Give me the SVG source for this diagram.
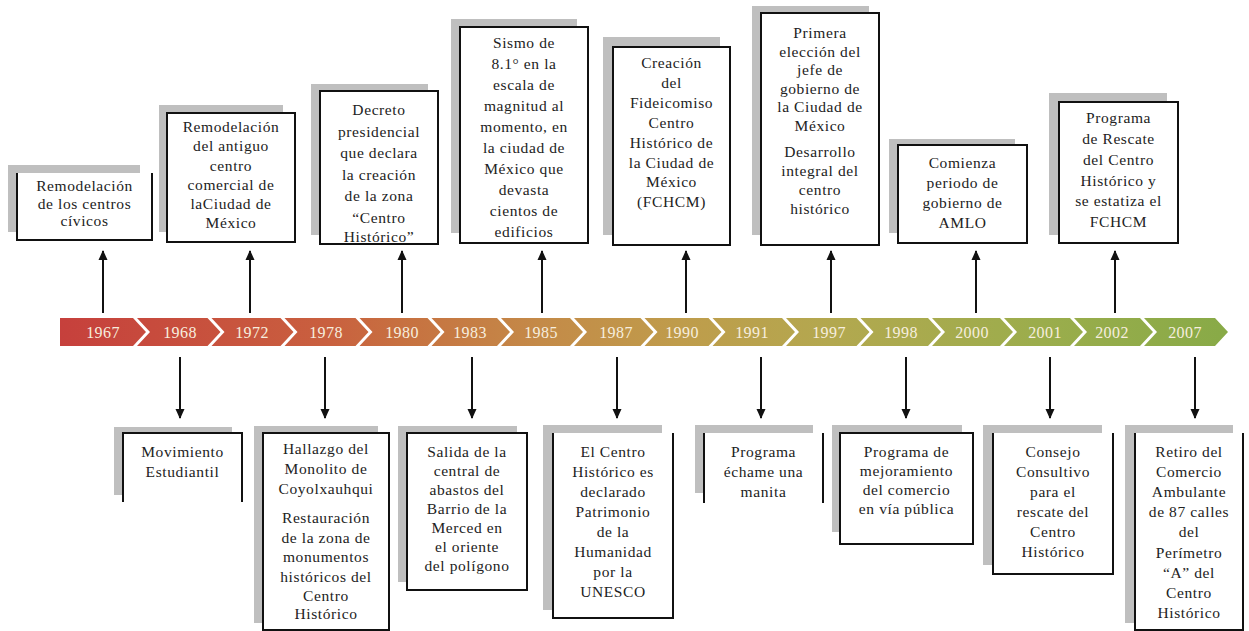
<svg xmlns="http://www.w3.org/2000/svg" width="1249" height="631" viewBox="0 0 1249 631">
<style>
.sh{fill:#bfbfbf}
.bx{fill:#fff;stroke:#111;stroke-width:2}
.wf{fill:#fff}
.bd{fill:none;stroke:#111;stroke-width:2}
.t{font-family:"Liberation Serif","Times New Roman",serif;font-size:15.5px;letter-spacing:0.6px;fill:#222;text-anchor:middle}
.yr{font-family:"Liberation Serif","Times New Roman",serif;font-size:16px;letter-spacing:0.4px;fill:#f7eedf;text-anchor:middle}
.seg{fill:url(#barGrad)}
.ar{stroke:#111;stroke-width:2;fill:none;marker-end:url(#ah)}
</style>
<defs>
<linearGradient id="barGrad" gradientUnits="userSpaceOnUse" x1="60" y1="0" x2="1228" y2="0">
<stop offset="0" stop-color="#c6403c"/>
<stop offset="0.23" stop-color="#c9603f"/>
<stop offset="0.29" stop-color="#c77040"/>
<stop offset="0.41" stop-color="#c48a48"/>
<stop offset="0.53" stop-color="#bf9c4b"/>
<stop offset="0.66" stop-color="#b3a84f"/>
<stop offset="0.84" stop-color="#9bad4c"/>
<stop offset="1" stop-color="#88aa47"/>
</linearGradient>
<marker id="ah" markerUnits="userSpaceOnUse" markerWidth="10" markerHeight="10" refX="9" refY="5" orient="auto">
<path d="M0,0.5 L10,5 L0,9.5 z" fill="#111"/>
</marker>
</defs>
<rect width="1249" height="631" fill="#fff"/>

<g id="timeline">
<polygon class="seg" points="60,318 133,318 146,332 133,346 60,346"/>
<polygon class="seg" points="137,318 207.5,318 220.5,332 207.5,346 137,346 150,332"/>
<polygon class="seg" points="211.5,318 280.5,318 293.5,332 280.5,346 211.5,346 224.5,332"/>
<polygon class="seg" points="284.5,318 355.5,318 368.5,332 355.5,346 284.5,346 297.5,332"/>
<polygon class="seg" points="359.5,318 427.5,318 440.5,332 427.5,346 359.5,346 372.5,332"/>
<polygon class="seg" points="431.5,318 497,318 510,332 497,346 431.5,346 444.5,332"/>
<polygon class="seg" points="501,318 570,318 583,332 570,346 501,346 514,332"/>
<polygon class="seg" points="574,318 640.5,318 653.5,332 640.5,346 574,346 587,332"/>
<polygon class="seg" points="644.5,318 708.5,318 721.5,332 708.5,346 644.5,346 657.5,332"/>
<polygon class="seg" points="712.5,318 782,318 795,332 782,346 712.5,346 725.5,332"/>
<polygon class="seg" points="786,318 856.5,318 869.5,332 856.5,346 786,346 799,332"/>
<polygon class="seg" points="860.5,318 928,318 941,332 928,346 860.5,346 873.5,332"/>
<polygon class="seg" points="932,318 1000,318 1013,332 1000,346 932,346 945,332"/>
<polygon class="seg" points="1004,318 1070,318 1083,332 1070,346 1004,346 1017,332"/>
<polygon class="seg" points="1074,318 1140,318 1153,332 1140,346 1074,346 1087,332"/>
<polygon class="seg" points="1144,318 1215,318 1228,332 1215,346 1144,346 1157,332"/>
<text class="yr" x="103" y="337.5">1967</text>
<text class="yr" x="180" y="337.5">1968</text>
<text class="yr" x="252" y="337.5">1972</text>
<text class="yr" x="326" y="337.5">1978</text>
<text class="yr" x="402" y="337.5">1980</text>
<text class="yr" x="470" y="337.5">1983</text>
<text class="yr" x="541" y="337.5">1985</text>
<text class="yr" x="616" y="337.5">1987</text>
<text class="yr" x="682" y="337.5">1990</text>
<text class="yr" x="752" y="337.5">1991</text>
<text class="yr" x="829" y="337.5">1997</text>
<text class="yr" x="901" y="337.5">1998</text>
<text class="yr" x="972" y="337.5">2000</text>
<text class="yr" x="1045" y="337.5">2001</text>
<text class="yr" x="1112" y="337.5">2002</text>
<text class="yr" x="1185" y="337.5">2007</text>
</g>

<g id="connectors">
<line class="ar" x1="103" y1="313" x2="103" y2="251"/>
<line class="ar" x1="250" y1="313" x2="250" y2="251"/>
<line class="ar" x1="402" y1="313" x2="402" y2="251"/>
<line class="ar" x1="542" y1="313" x2="542" y2="251"/>
<line class="ar" x1="686" y1="313" x2="686" y2="251"/>
<line class="ar" x1="831" y1="313" x2="831" y2="251"/>
<line class="ar" x1="976" y1="313" x2="976" y2="251"/>
<line class="ar" x1="1115" y1="313" x2="1115" y2="251"/>
<line class="ar" x1="180" y1="357" x2="180" y2="418"/>
<line class="ar" x1="325" y1="357" x2="325" y2="418"/>
<line class="ar" x1="472" y1="357" x2="472" y2="418"/>
<line class="ar" x1="617" y1="357" x2="617" y2="418"/>
<line class="ar" x1="761" y1="357" x2="761" y2="418"/>
<line class="ar" x1="906" y1="357" x2="906" y2="418"/>
<line class="ar" x1="1050" y1="357" x2="1050" y2="418"/>
<line class="ar" x1="1195" y1="357" x2="1195" y2="418"/>
</g>

<g id="n1967">
<rect class="sh" x="8" y="165" width="132" height="67"/>
<rect class="wf" x="17" y="173" width="135" height="67"/>
<path class="bd" d="M17,173 V240 H152 V173"/>
<text class="t"><tspan x="84.5" y="191">Remodelación</tspan><tspan x="84.5" y="209">de los centros</tspan><tspan x="84.5" y="226">cívicos</tspan></text>
</g>

<g id="n1972">
<rect class="sh" x="159" y="105" width="124" height="127"/>
<rect class="bx" x="167" y="113" width="128" height="129"/>
<text class="t"><tspan x="231" y="132">Remodelación</tspan><tspan x="231" y="151">del antiguo</tspan><tspan x="231" y="171">centro</tspan><tspan x="231" y="190">comercial de</tspan><tspan x="231" y="209">laCiudad de</tspan><tspan x="231" y="228">México</tspan></text>
</g>

<g id="n1980">
<rect class="sh" x="311" y="84" width="117" height="151"/>
<rect class="bx" x="320" y="91" width="118" height="153"/>
<text class="t"><tspan x="379" y="115">Decreto</tspan><tspan x="379" y="136.5">presidencial</tspan><tspan x="379" y="158">que declara</tspan><tspan x="379" y="179.5">la creación</tspan><tspan x="379" y="201">de la zona</tspan><tspan x="379" y="222.5">“Centro</tspan><tspan x="379" y="244" dy="-2">Histórico”</tspan></text>
</g>

<g id="n1985">
<rect class="sh" x="451" y="19" width="126" height="214"/>
<rect class="bx" x="460" y="27" width="128" height="216"/>
<text class="t"><tspan x="524" y="48">Sismo de</tspan><tspan x="524" y="69">8.1° en la</tspan><tspan x="524" y="90">escala de</tspan><tspan x="524" y="111">magnitud al</tspan><tspan x="524" y="132">momento, en</tspan><tspan x="524" y="153">la ciudad de</tspan><tspan x="524" y="174">México que</tspan><tspan x="524" y="195">devasta</tspan><tspan x="524" y="216">cientos de</tspan><tspan x="524" y="237">edificios</tspan></text>
</g>

<g id="n1990">
<rect class="sh" x="603" y="37" width="117" height="198"/>
<rect class="bx" x="613" y="47" width="117" height="198"/>
<text class="t"><tspan x="671.5" y="68">Creación</tspan><tspan x="671.5" y="88">del</tspan><tspan x="671.5" y="108">Fideicomiso</tspan><tspan x="671.5" y="127.5">Centro</tspan><tspan x="671.5" y="147.5">Histórico de</tspan><tspan x="671.5" y="167.5">la Ciudad de</tspan><tspan x="671.5" y="187">México</tspan><tspan x="671.5" y="207">(FCHCM)</tspan></text>
</g>

<g id="n1997">
<rect class="sh" x="752" y="6" width="117" height="229"/>
<rect class="bx" x="761" y="13" width="118" height="232"/>
<text class="t"><tspan x="820" y="38">Primera</tspan><tspan x="820" y="56.5">elección del</tspan><tspan x="820" y="75">jefe de</tspan><tspan x="820" y="93.5">gobierno de</tspan><tspan x="820" y="112">la Ciudad de</tspan><tspan x="820" y="130.5">México</tspan><tspan x="820" y="157">Desarrollo</tspan><tspan x="820" y="176">integral del</tspan><tspan x="820" y="195">centro</tspan><tspan x="820" y="214">histórico</tspan></text>
</g>

<g id="n2000">
<rect class="sh" x="889" y="139" width="126" height="94"/>
<rect class="bx" x="898" y="145" width="129" height="98"/>
<text class="t"><tspan x="962.5" y="168">Comienza</tspan><tspan x="962.5" y="188">periodo de</tspan><tspan x="962.5" y="208">gobierno de</tspan><tspan x="962.5" y="228">AMLO</tspan></text>
</g>

<g id="n2002">
<rect class="sh" x="1049" y="93" width="118" height="142"/>
<rect class="bx" x="1059" y="102" width="119" height="141"/>
<text class="t"><tspan x="1118.5" y="123">Programa</tspan><tspan x="1118.5" y="144">de Rescate</tspan><tspan x="1118.5" y="164.5">del Centro</tspan><tspan x="1118.5" y="185.5">Histórico y</tspan><tspan x="1118.5" y="206">se estatiza el</tspan><tspan x="1118.5" y="227">FCHCM</tspan></text>
</g>

<g id="n1968">
<rect class="sh" x="114" y="427" width="118" height="68"/>
<rect class="wf" x="123" y="433" width="119" height="69"/>
<path class="bd" d="M123,502 V433 H242 V502"/>
<text class="t"><tspan x="182.5" y="457">Movimiento</tspan><tspan x="182.5" y="477">Estudiantil</tspan></text>
</g>

<g id="n1978">
<rect class="sh" x="254" y="426" width="124" height="197"/>
<rect class="bx" x="263" y="433" width="126" height="197"/>
<text class="t"><tspan x="326" y="454">Hallazgo del</tspan><tspan x="326" y="474">Monolito de</tspan><tspan x="326" y="494">Coyolxauhqui</tspan><tspan x="326" y="523">Restauración</tspan><tspan x="326" y="543">de la zona de</tspan><tspan x="326" y="562">monumentos</tspan><tspan x="326" y="582">históricos del</tspan><tspan x="326" y="601">Centro</tspan><tspan x="326" y="619">Histórico</tspan></text>
</g>

<g id="n1983">
<rect class="sh" x="398" y="426" width="119" height="156"/>
<rect class="bx" x="407" y="433" width="120" height="157"/>
<text class="t"><tspan x="467" y="457">Salida de la</tspan><tspan x="467" y="476">central de</tspan><tspan x="467" y="495">abastos del</tspan><tspan x="467" y="514">Barrio de la</tspan><tspan x="467" y="533">Merced en</tspan><tspan x="467" y="552">el oriente</tspan><tspan x="467" y="571">del polígono</tspan></text>
</g>

<g id="n1987">
<rect class="sh" x="543" y="425" width="119" height="185"/>
<rect class="wf" x="553" y="433" width="120" height="185"/>
<path class="bd" d="M553,433 V618 H673 V433"/>
<text class="t"><tspan x="613" y="457">El Centro</tspan><tspan x="613" y="477">Histórico es</tspan><tspan x="613" y="497">declarado</tspan><tspan x="613" y="517">Patrimonio</tspan><tspan x="613" y="537">de la</tspan><tspan x="613" y="557">Humanidad</tspan><tspan x="613" y="577">por la</tspan><tspan x="613" y="597">UNESCO</tspan></text>
</g>

<g id="n1991">
<rect class="sh" x="695" y="425" width="118" height="68"/>
<rect class="wf" x="704" y="433" width="119" height="70"/>
<path class="bd" d="M704,433 V503 M823,433 V503"/>
<text class="t"><tspan x="763.5" y="457">Programa</tspan><tspan x="763.5" y="477">échame una</tspan><tspan x="763.5" y="497">manita</tspan></text>
</g>

<g id="n1998">
<rect class="sh" x="832" y="425" width="130" height="107"/>
<rect class="bx" x="840" y="433" width="133" height="111"/>
<text class="t"><tspan x="906.5" y="457">Programa de</tspan><tspan x="906.5" y="476">mejoramiento</tspan><tspan x="906.5" y="495">del comercio</tspan><tspan x="906.5" y="514">en vía pública</tspan></text>
</g>

<g id="n2001">
<rect class="sh" x="983" y="425" width="119" height="140"/>
<rect class="wf" x="993" y="433" width="120" height="141"/>
<path class="bd" d="M993,433 V574 H1113 V433"/>
<text class="t"><tspan x="1053" y="457">Consejo</tspan><tspan x="1053" y="477">Consultivo</tspan><tspan x="1053" y="497">para el</tspan><tspan x="1053" y="517">rescate del</tspan><tspan x="1053" y="537">Centro</tspan><tspan x="1053" y="557">Histórico</tspan></text>
</g>

<g id="n2007">
<rect class="sh" x="1125" y="425" width="108" height="198"/>
<rect class="wf" x="1135" y="433" width="108" height="197"/>
<path class="bd" d="M1135,433 V630 H1243 V433"/>
<text class="t"><tspan x="1189" y="457">Retiro del</tspan><tspan x="1189" y="477">Comercio</tspan><tspan x="1189" y="497">Ambulante</tspan><tspan x="1189" y="517">de 87 calles</tspan><tspan x="1189" y="537">del</tspan><tspan x="1189" y="558">Perímetro</tspan><tspan x="1189" y="578">“A” del</tspan><tspan x="1189" y="598">Centro</tspan><tspan x="1189" y="618">Histórico</tspan></text>
</g>
</svg>
